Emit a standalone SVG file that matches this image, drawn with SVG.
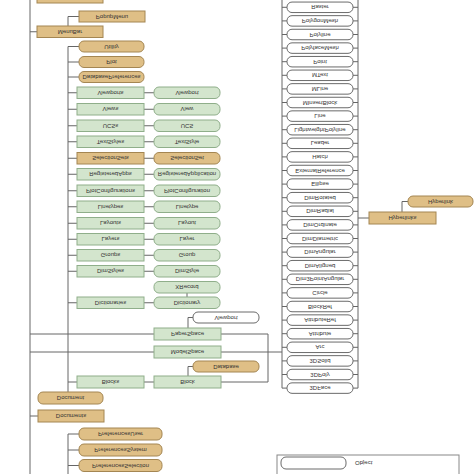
<svg xmlns="http://www.w3.org/2000/svg" width="474" height="474" viewBox="0 0 474 474">
<style>
.tan{fill:#dfbf86;stroke:#a48652;stroke-width:1}
.grn{fill:#d3e5cd;stroke:#8fae8a;stroke-width:1}
.wht{fill:#ffffff;stroke:#6a6a6a;stroke-width:1}
.ln{fill:none;stroke:#666;stroke-width:1}
text{font-family:"Liberation Sans",Arial,sans-serif;font-size:6px;fill:#333;text-anchor:middle;dominant-baseline:central}
</style>
<rect width="474" height="474" fill="#fff"/>
<g id="connectors" class="ln">
<path d="M30 0V474"/>
<path d="M30 31.75H37M68 26V16.5H79"/>
<path d="M68 46.5V392"/>
<path d="M68 46.5H79M68 62H79M68 77H79"/>
<path d="M68 92.75H77M68 109.25H77M68 125.75H77M68 141.75H77M68 158.25H77M68 174.25H77M68 190.75H77M68 206.75H77M68 223.25H77M68 239.25H77M68 255.25H77M68 271.25H77M68 302.75H77M68 382H77"/>
<path d="M144 92.75H154M144 109.25H154M144 125.75H154M144 141.75H154M144 158.25H154M144 174.25H154M144 190.75H154M144 206.75H154M144 223.25H154M144 239.25H154M144 255.25H154M144 271.25H154M144 302.75H154M144 382H154"/>
<path d="M187 297V293"/>
<path d="M30 334H154M221 334H268V382H221M188 328V317.5H193"/>
<path d="M30 352H154M221 352H282"/>
<path d="M188 376V366.5H193"/>
<path d="M30 416H38"/>
<path d="M68 434V474M68 434H79M68 450H79M68 465.5H79"/>
<path d="M282 0V388.1M358 0V388.1"/>
<path d="M282 7.3h5M282 20.9h5M282 34.5h5M282 48.1h5M282 61.7h5M282 75.3h5M282 88.9h5M282 102.5h5M282 116.1h5M282 129.7h5M282 143.3h5M282 156.9h5M282 170.5h5M282 184.1h5M282 197.7h5M282 211.3h5M282 224.9h5M282 238.5h5M282 252.1h5M282 265.7h5M282 279.3h5M282 292.9h5M282 306.5h5M282 320.1h5M282 333.7h5M282 347.3h5M282 360.9h5M282 374.5h5M282 388.1h5"/>
<path d="M353 7.3h5M353 20.9h5M353 34.5h5M353 48.1h5M353 61.7h5M353 75.3h5M353 88.9h5M353 102.5h5M353 116.1h5M353 129.7h5M353 143.3h5M353 156.9h5M353 170.5h5M353 184.1h5M353 197.7h5M353 211.3h5M353 224.9h5M353 238.5h5M353 252.1h5M353 265.7h5M353 279.3h5M353 292.9h5M353 306.5h5M353 320.1h5M353 333.7h5M353 347.3h5M353 360.9h5M353 374.5h5M353 388.1h5"/>
<path d="M358 218H369M402 212V201.5H408"/>
</g>
<g id="n-top"><rect class="tan" x="37" y="-10" width="66" height="13"/></g>
<g id="n-popupmenu"><rect class="tan" x="79" y="11" width="66" height="11"/><text transform="translate(112 16.5) scale(1 -1)">PopupMenu</text></g>
<g id="n-menubar"><rect class="tan" x="37" y="26" width="66" height="11.5"/><text transform="translate(70 31.75) scale(1 -1)">MenuBar</text></g>
<g id="n-utility"><rect class="tan" x="79" y="41" width="65" height="11" rx="5"/><text transform="translate(111.5 46.5) scale(1 -1)">Utility</text></g>
<g id="n-plot"><rect class="tan" x="79" y="56.5" width="65" height="11" rx="5"/><text transform="translate(111.5 62) scale(1 -1)">Plot</text></g>
<g id="n-dbpref"><rect class="tan" x="79" y="71.5" width="65" height="11" rx="5"/><text transform="translate(111.5 77) scale(1 -1)">DatabasePreferences</text></g>
<g id="n-viewports"><rect class="grn" x="77" y="87" width="67" height="11.5"/><text transform="translate(110.5 92.75) scale(1 -1)">Viewports</text></g>
<g id="n-viewport"><rect class="grn" x="154" y="87" width="66" height="11.5" rx="5"/><text transform="translate(187 92.75) scale(1 -1)">Viewport</text></g>
<g id="n-views"><rect class="grn" x="77" y="103.5" width="67" height="11.5"/><text transform="translate(110.5 109.25) scale(1 -1)">Views</text></g>
<g id="n-view"><rect class="grn" x="154" y="103.5" width="66" height="11.5" rx="5"/><text transform="translate(187 109.25) scale(1 -1)">View</text></g>
<g id="n-ucss"><rect class="grn" x="77" y="120" width="67" height="11.5"/><text transform="translate(110.5 125.75) scale(1 -1)">UCSs</text></g>
<g id="n-ucs"><rect class="grn" x="154" y="120" width="66" height="11.5" rx="5"/><text transform="translate(187 125.75) scale(1 -1)">UCS</text></g>
<g id="n-textstyles"><rect class="grn" x="77" y="136" width="67" height="11.5"/><text transform="translate(110.5 141.75) scale(1 -1)">TextStyles</text></g>
<g id="n-textstyle"><rect class="grn" x="154" y="136" width="66" height="11.5" rx="5"/><text transform="translate(187 141.75) scale(1 -1)">TextStyle</text></g>
<g id="n-selsets"><rect class="tan" x="77" y="152.5" width="67" height="11.5"/><text transform="translate(110.5 158.25) scale(1 -1)">SelectionSets</text></g>
<g id="n-selset"><rect class="tan" x="154" y="152.5" width="66" height="11.5" rx="5"/><text transform="translate(187 158.25) scale(1 -1)">SelectionSet</text></g>
<g id="n-regapps"><rect class="grn" x="77" y="168.5" width="67" height="11.5"/><text transform="translate(110.5 174.25) scale(1 -1)">RegisteredApps</text></g>
<g id="n-regapp"><rect class="grn" x="154" y="168.5" width="66" height="11.5" rx="5"/><text transform="translate(187 174.25) scale(1 -1)">RegisteredApplication</text></g>
<g id="n-plotconfigs"><rect class="grn" x="77" y="185" width="67" height="11.5"/><text transform="translate(110.5 190.75) scale(1 -1)">PlotConfigurations</text></g>
<g id="n-plotconfig"><rect class="grn" x="154" y="185" width="66" height="11.5" rx="5"/><text transform="translate(187 190.75) scale(1 -1)">PlotConfiguration</text></g>
<g id="n-linetypes"><rect class="grn" x="77" y="201" width="67" height="11.5"/><text transform="translate(110.5 206.75) scale(1 -1)">Linetypes</text></g>
<g id="n-linetype"><rect class="grn" x="154" y="201" width="66" height="11.5" rx="5"/><text transform="translate(187 206.75) scale(1 -1)">Linetype</text></g>
<g id="n-layouts"><rect class="grn" x="77" y="217.5" width="67" height="11.5"/><text transform="translate(110.5 223.25) scale(1 -1)">Layouts</text></g>
<g id="n-layout"><rect class="grn" x="154" y="217.5" width="66" height="11.5" rx="5"/><text transform="translate(187 223.25) scale(1 -1)">Layout</text></g>
<g id="n-layers"><rect class="grn" x="77" y="233.5" width="67" height="11.5"/><text transform="translate(110.5 239.25) scale(1 -1)">Layers</text></g>
<g id="n-layer"><rect class="grn" x="154" y="233.5" width="66" height="11.5" rx="5"/><text transform="translate(187 239.25) scale(1 -1)">Layer</text></g>
<g id="n-groups"><rect class="grn" x="77" y="249.5" width="67" height="11.5"/><text transform="translate(110.5 255.25) scale(1 -1)">Groups</text></g>
<g id="n-group"><rect class="grn" x="154" y="249.5" width="66" height="11.5" rx="5"/><text transform="translate(187 255.25) scale(1 -1)">Group</text></g>
<g id="n-dimstyles"><rect class="grn" x="77" y="265.5" width="67" height="11.5"/><text transform="translate(110.5 271.25) scale(1 -1)">DimStyles</text></g>
<g id="n-dimstyle"><rect class="grn" x="154" y="265.5" width="66" height="11.5" rx="5"/><text transform="translate(187 271.25) scale(1 -1)">DimStyle</text></g>
<g id="n-xrecord"><rect class="grn" x="154" y="281.5" width="66" height="11.5" rx="5"/><text transform="translate(187 287.25) scale(1 -1)">XRecord</text></g>
<g id="n-dictionaries"><rect class="grn" x="77" y="297" width="67" height="11.5"/><text transform="translate(110.5 302.75) scale(1 -1)">Dictionaries</text></g>
<g id="n-dictionary"><rect class="grn" x="154" y="297" width="66" height="11.5" rx="5"/><text transform="translate(187 302.75) scale(1 -1)">Dictionary</text></g>
<g id="n-pviewport"><rect class="wht" x="193" y="312" width="66" height="11" rx="5"/><text transform="translate(226 317.5) scale(1 -1)">Viewport</text></g>
<g id="n-paperspace"><rect class="grn" x="154" y="328" width="67" height="12"/><text transform="translate(187.5 334) scale(1 -1)">PaperSpace</text></g>
<g id="n-modelspace"><rect class="grn" x="154" y="346" width="67" height="12"/><text transform="translate(187.5 352) scale(1 -1)">ModelSpace</text></g>
<g id="n-database"><rect class="tan" x="193" y="361" width="66" height="11" rx="5"/><text transform="translate(226 366.5) scale(1 -1)">Database</text></g>
<g id="n-blocks"><rect class="grn" x="77" y="376" width="67" height="12"/><text transform="translate(110.5 382) scale(1 -1)">Blocks</text></g>
<g id="n-block"><rect class="grn" x="154" y="376" width="67" height="12"/><text transform="translate(187.5 382) scale(1 -1)">Block</text></g>
<g id="n-document"><rect class="tan" x="38" y="392" width="65" height="12" rx="5"/><text transform="translate(70.5 398) scale(1 -1)">Document</text></g>
<g id="n-documents"><rect class="tan" x="38" y="410" width="66" height="12"/><text transform="translate(71 416) scale(1 -1)">Documents</text></g>
<g id="n-prefuser"><rect class="tan" x="79" y="428" width="83" height="12" rx="5"/><text transform="translate(120.5 434) scale(1 -1)">PreferencesUser</text></g>
<g id="n-prefsystem"><rect class="tan" x="79" y="444" width="83" height="12" rx="5"/><text transform="translate(120.5 450) scale(1 -1)">PreferencesSystem</text></g>
<g id="n-prefselection"><rect class="tan" x="79" y="459.5" width="83" height="12" rx="5"/><text transform="translate(120.5 465.5) scale(1 -1)">PreferencesSelection</text></g>
<g id="n-ray"><rect class="wht" x="287" y="-11.5" width="66" height="10.5" rx="5"/></g>
<g id="n-raster"><rect class="wht" x="287" y="2.05" width="66" height="10.5" rx="5"/><text transform="translate(320 7.3) scale(1 -1)">Raster</text></g>
<g id="n-polygonmesh"><rect class="wht" x="287" y="15.65" width="66" height="10.5" rx="5"/><text transform="translate(320 20.9) scale(1 -1)">PolygonMesh</text></g>
<g id="n-polyline"><rect class="wht" x="287" y="29.25" width="66" height="10.5" rx="5"/><text transform="translate(320 34.5) scale(1 -1)">Polyline</text></g>
<g id="n-polyfacemesh"><rect class="wht" x="287" y="42.85" width="66" height="10.5" rx="5"/><text transform="translate(320 48.1) scale(1 -1)">PolyfaceMesh</text></g>
<g id="n-point"><rect class="wht" x="287" y="56.45" width="66" height="10.5" rx="5"/><text transform="translate(320 61.7) scale(1 -1)">Point</text></g>
<g id="n-mtext"><rect class="wht" x="287" y="70.05" width="66" height="10.5" rx="5"/><text transform="translate(320 75.3) scale(1 -1)">MText</text></g>
<g id="n-mline"><rect class="wht" x="287" y="83.65" width="66" height="10.5" rx="5"/><text transform="translate(320 88.9) scale(1 -1)">MLine</text></g>
<g id="n-minsertblock"><rect class="wht" x="287" y="97.25" width="66" height="10.5" rx="5"/><text transform="translate(320 102.5) scale(1 -1)">MInsertBlock</text></g>
<g id="n-line"><rect class="wht" x="287" y="110.85" width="66" height="10.5" rx="5"/><text transform="translate(320 116.1) scale(1 -1)">Line</text></g>
<g id="n-lwpolyline"><rect class="wht" x="287" y="124.45" width="66" height="10.5" rx="5"/><text transform="translate(320 129.7) scale(1 -1)">LightweightPolyline</text></g>
<g id="n-leader"><rect class="wht" x="287" y="138.05" width="66" height="10.5" rx="5"/><text transform="translate(320 143.3) scale(1 -1)">Leader</text></g>
<g id="n-hatch"><rect class="wht" x="287" y="151.65" width="66" height="10.5" rx="5"/><text transform="translate(320 156.9) scale(1 -1)">Hatch</text></g>
<g id="n-extref"><rect class="wht" x="287" y="165.25" width="66" height="10.5" rx="5"/><text transform="translate(320 170.5) scale(1 -1)">ExternalReference</text></g>
<g id="n-ellipse"><rect class="wht" x="287" y="178.85" width="66" height="10.5" rx="5"/><text transform="translate(320 184.1) scale(1 -1)">Ellipse</text></g>
<g id="n-dimrotated"><rect class="wht" x="287" y="192.45" width="66" height="10.5" rx="5"/><text transform="translate(320 197.7) scale(1 -1)">DimRotated</text></g>
<g id="n-dimradial"><rect class="wht" x="287" y="206.05" width="66" height="10.5" rx="5"/><text transform="translate(320 211.3) scale(1 -1)">DimRadial</text></g>
<g id="n-dimordinate"><rect class="wht" x="287" y="219.65" width="66" height="10.5" rx="5"/><text transform="translate(320 224.9) scale(1 -1)">DimOrdinate</text></g>
<g id="n-dimdiametric"><rect class="wht" x="287" y="233.25" width="66" height="10.5" rx="5"/><text transform="translate(320 238.5) scale(1 -1)">DimDiametric</text></g>
<g id="n-dimangular"><rect class="wht" x="287" y="246.85" width="66" height="10.5" rx="5"/><text transform="translate(320 252.1) scale(1 -1)">DimAngular</text></g>
<g id="n-dimaligned"><rect class="wht" x="287" y="260.45" width="66" height="10.5" rx="5"/><text transform="translate(320 265.7) scale(1 -1)">DimAligned</text></g>
<g id="n-dim3pt"><rect class="wht" x="287" y="274.05" width="66" height="10.5" rx="5"/><text transform="translate(320 279.3) scale(1 -1)">Dim3PointAngular</text></g>
<g id="n-circle"><rect class="wht" x="287" y="287.65" width="66" height="10.5" rx="5"/><text transform="translate(320 292.9) scale(1 -1)">Circle</text></g>
<g id="n-blockref"><rect class="wht" x="287" y="301.25" width="66" height="10.5" rx="5"/><text transform="translate(320 306.5) scale(1 -1)">BlockRef</text></g>
<g id="n-attributeref"><rect class="wht" x="287" y="314.85" width="66" height="10.5" rx="5"/><text transform="translate(320 320.1) scale(1 -1)">AttributeRef</text></g>
<g id="n-attribute"><rect class="wht" x="287" y="328.45" width="66" height="10.5" rx="5"/><text transform="translate(320 333.7) scale(1 -1)">Attribute</text></g>
<g id="n-arc"><rect class="wht" x="287" y="342.05" width="66" height="10.5" rx="5"/><text transform="translate(320 347.3) scale(1 -1)">Arc</text></g>
<g id="n-3dsolid"><rect class="wht" x="287" y="355.65" width="66" height="10.5" rx="5"/><text transform="translate(320 360.9) scale(1 -1)">3DSolid</text></g>
<g id="n-3dpoly"><rect class="wht" x="287" y="369.25" width="66" height="10.5" rx="5"/><text transform="translate(320 374.5) scale(1 -1)">3DPoly</text></g>
<g id="n-3dface"><rect class="wht" x="287" y="382.85" width="66" height="10.5" rx="5"/><text transform="translate(320 388.1) scale(1 -1)">3DFace</text></g>
<g id="n-hyperlinks"><rect class="tan" x="369" y="212" width="67" height="12"/><text transform="translate(402.5 218) scale(1 -1)">Hyperlinks</text></g>
<g id="n-hyperlink"><rect class="tan" x="408" y="196" width="65" height="11" rx="5"/><text transform="translate(440.5 201.5) scale(1 -1)">Hyperlink</text></g>
<g id="legend">
<rect x="277" y="455" width="182" height="30" fill="none" stroke="#888" stroke-width="1"/>
<rect class="wht" x="281" y="457" width="65" height="12" rx="5"/>
<text transform="translate(355 463) scale(1 -1)" style="text-anchor:start">Object</text>
</g>
</svg>
